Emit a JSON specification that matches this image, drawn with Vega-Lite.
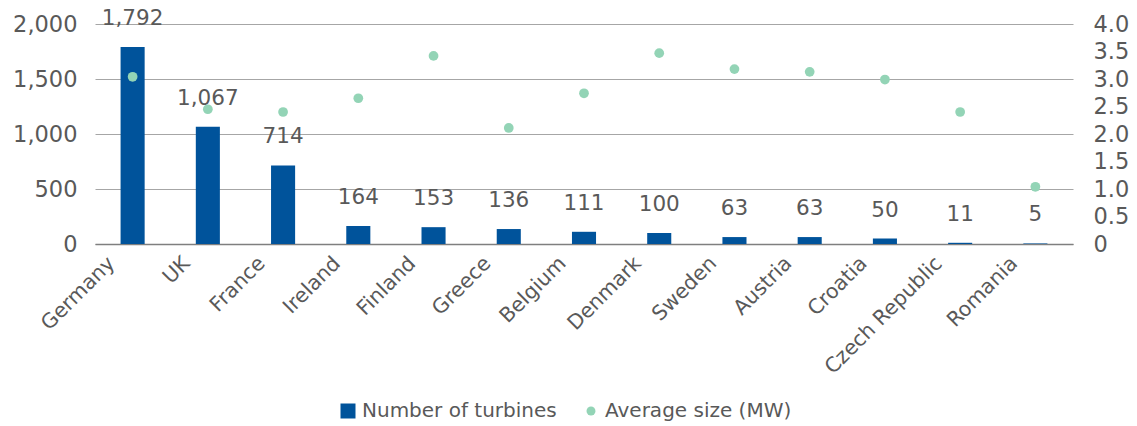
{
  "$schema": "https://vega.github.io/schema/vega-lite/v6.json",
  "autosize": {"type": "none"},
  "padding": {"left": 95, "top": 24, "right": 64, "bottom": 182},
  "width": 978,
  "height": 220,
  "config": {
    "font": "DejaVu Sans",
    "view": {"stroke": null},
    "axis": {"labelColor": "#595959", "labelFont": "DejaVu Sans", "labelFontSize": 22.5, "titleColor": "#595959"},
    "legend": {"labelColor": "#595959", "labelFont": "DejaVu Sans", "labelFontSize": 20, "labelLimit": 400}
  },
  "data": {
    "values": [
      {"country": "Germany", "turbines": 1792, "avg_size": 3.04},
      {"country": "UK", "turbines": 1067, "avg_size": 2.45},
      {"country": "France", "turbines": 714, "avg_size": 2.4},
      {"country": "Ireland", "turbines": 164, "avg_size": 2.65},
      {"country": "Finland", "turbines": 153, "avg_size": 3.42},
      {"country": "Greece", "turbines": 136, "avg_size": 2.11},
      {"country": "Belgium", "turbines": 111, "avg_size": 2.74},
      {"country": "Denmark", "turbines": 100, "avg_size": 3.47},
      {"country": "Sweden", "turbines": 63, "avg_size": 3.18},
      {"country": "Austria", "turbines": 63, "avg_size": 3.13},
      {"country": "Croatia", "turbines": 50, "avg_size": 2.99},
      {"country": "Czech Republic", "turbines": 11, "avg_size": 2.4},
      {"country": "Romania", "turbines": 5, "avg_size": 1.04}
    ]
  },
  "encoding": {
    "x": {
      "field": "country",
      "type": "nominal",
      "sort": null,
      "scale": {"paddingInner": 0.68, "paddingOuter": 0.34},
      "axis": {
        "title": null,
        "labelAngle": -45,
        "labelAlign": "right",
        "labelBaseline": "bottom",
        "labelFontSize": 20.5,
        "labelPadding": 23,
        "labelOffset": -14,
        "ticks": false,
        "domainColor": "#7f7f7f",
        "domainWidth": 1.5
      }
    }
  },
  "layer": [
    {
      "encoding": {
        "y": {
          "field": "turbines",
          "type": "quantitative",
          "scale": {"domain": [0, 2000], "nice": false},
          "axis": {
            "title": null,
            "values": [0, 500, 1000, 1500, 2000],
            "format": ",d",
            "domain": false,
            "ticks": false,
            "labelPadding": 18,
            "gridColor": "#a6a6a6",
            "gridWidth": 1
          }
        }
      },
      "layer": [
        {
          "mark": {"type": "bar"},
          "encoding": {
            "color": {
              "datum": "Number of turbines",
              "type": "nominal",
              "scale": {"domain": ["Number of turbines", "Average size (MW)"], "range": ["#00539b", "#93d4b6"]},
              "legend": {
                "title": null,
                "orient": "none",
                "direction": "horizontal",
                "legendX": 243,
                "legendY": 377,
                "padding": 0,
                "labelOffset": 4,
                "columnPadding": 24,
                "symbolStrokeWidth": 0,
                "encode": {
                  "symbols": {
                    "update": {
                      "shape": {"signal": "datum.value === 'Number of turbines' ? 'square' : 'circle'"},
                      "size": {"signal": "datum.value === 'Number of turbines' ? 225 : 80"},
                      "strokeWidth": {"value": 0}
                    }
                  }
                }
              }
            }
          }
        },
        {
          "mark": {"type": "text", "baseline": "bottom", "dy": -17, "fontSize": 21.5, "color": "#595959"},
          "encoding": {
            "text": {"field": "turbines", "type": "quantitative", "format": ",d"}
          }
        }
      ]
    },
    {
      "mark": {"type": "circle", "size": 95, "opacity": 1},
      "encoding": {
        "y": {
          "field": "avg_size",
          "type": "quantitative",
          "scale": {"domain": [0, 4], "nice": false},
          "axis": {
            "orient": "right",
            "title": null,
            "values": [0, 0.5, 1, 1.5, 2, 2.5, 3, 3.5, 4],
            "labelExpr": "datum.value === 0 ? '0' : format(datum.value, '.1f')",
            "domain": false,
            "ticks": false,
            "grid": false,
            "labelPadding": 20
          }
        },
        "color": {"datum": "Average size (MW)", "type": "nominal"}
      }
    }
  ],
  "resolve": {"scale": {"y": "independent"}}
}
